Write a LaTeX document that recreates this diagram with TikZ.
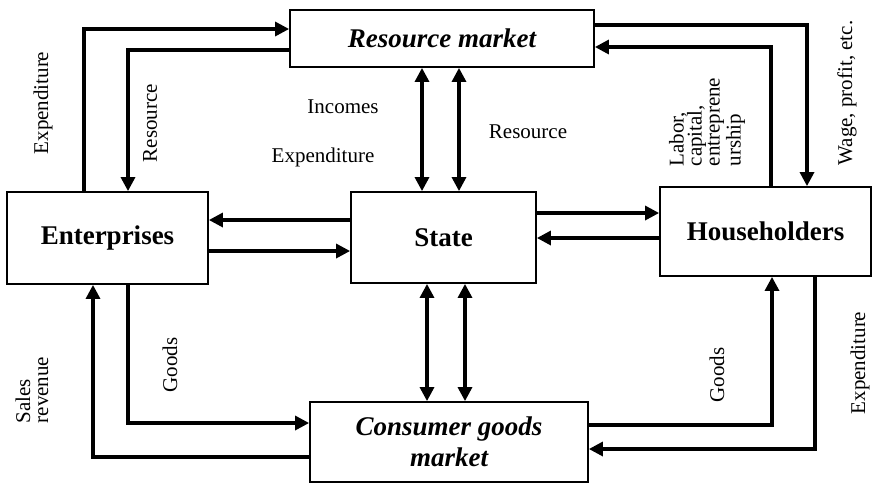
\documentclass[tikz,border=0pt]{standalone}
\usepackage{fontspec}
\setmainfont{Liberation Serif}
\usetikzlibrary{arrows.meta}
\begin{document}
\begin{tikzpicture}[x=0.5pt,y=-0.5pt,
  box/.style={draw, line width=0.9pt, inner sep=2pt, align=center, font=\fontsize{13.5}{15.5}\selectfont\bfseries},
  mkt/.style={box, font=\fontsize{13.5}{15.5}\selectfont\bfseries\itshape},
  flow/.style={line width=1.6pt, -{Triangle[length=7pt,width=7pt]}},
  dflow/.style={line width=1.6pt, {Triangle[length=7pt,width=7pt]}-{Triangle[length=7pt,width=7pt]}},
  lbl/.style={inner sep=0pt, align=left, font=\fontsize{10.5}{9}\selectfont}]
\useasboundingbox (0,0) rectangle (872,484);
\node[mkt, minimum width=152pt, minimum height=28.5pt] (res) at (442,38.5) {Resource market};
\node[box, minimum width=100.5pt, minimum height=46pt] (ent) at (107.5,238) {Enterprises};
\node[box, minimum width=92.5pt, minimum height=45.5pt] (state) at (443.5,237.5) {State};
\node[box, minimum width=105.5pt, minimum height=44.5pt] (hh) at (765.5,231.5) {Householders};
\node[mkt, minimum width=139pt, minimum height=40pt] (cgm) at (449,442) {Consumer goods\\market};
\coordinate (e1) at (84,29);
\coordinate (r1) at (128,50);
\coordinate (d1) at (422,0);
\coordinate (d2) at (459,0);
\coordinate (d3) at (427,0);
\coordinate (d4) at (465,0);
\coordinate (h1) at (0,220);
\coordinate (h2) at (0,251);
\coordinate (h3) at (0,213);
\coordinate (h4) at (0,238);
\coordinate (w1) at (807,25);
\coordinate (l1) at (771,47);
\coordinate (g1) at (128,423);
\coordinate (s1) at (93,457);
\coordinate (g2) at (772,425);
\coordinate (x2) at (815,449);
\draw[flow] (ent.north -| e1) |- (res.west |- e1);
\draw[flow] (res.west |- r1) -| (ent.north -| r1);
\draw[dflow] (res.south -| d1) -- (state.north -| d1);
\draw[dflow] (res.south -| d2) -- (state.north -| d2);
\draw[flow] (state.west |- h1) -- (ent.east |- h1);
\draw[flow] (ent.east |- h2) -- (state.west |- h2);
\draw[flow] (state.east |- h3) -- (hh.west |- h3);
\draw[flow] (hh.west |- h4) -- (state.east |- h4);
\draw[flow] (res.east |- w1) -| (hh.north -| w1);
\draw[flow] (hh.north -| l1) |- (res.east |- l1);
\draw[dflow] (state.south -| d3) -- (cgm.north -| d3);
\draw[dflow] (state.south -| d4) -- (cgm.north -| d4);
\draw[flow] (ent.south -| g1) |- (cgm.west |- g1);
\draw[flow] (cgm.west |- s1) -| (ent.south -| s1);
\draw[flow] (cgm.east |- g2) -| (hh.south -| g2);
\draw[flow] (hh.south -| x2) |- (cgm.east |- x2);
\node[lbl, rotate=90] (lexp1) at (43,103) {Expenditure};
\node[lbl, rotate=90] (lres1) at (150,123) {Resource};
\node[lbl] (linc) at (343,107) {Incomes};
\node[lbl] (lexp2) at (323,157) {Expenditure};
\node[lbl] (lres2) at (528,132) {Resource};
\node[lbl, rotate=90] (llab) at (707,122) {Labor,\\capital,\\entreprene\\urship};
\node[lbl, rotate=90] (lwage) at (847,93) {Wage, profit, etc.};
\node[lbl, rotate=90] (lsal) at (32,390) {Sales\\revenue};
\node[lbl, rotate=90] (lgds1) at (170,365) {Goods};
\node[lbl, rotate=90] (lgds2) at (717,375) {Goods};
\node[lbl, rotate=90] (lexp3) at (860,363) {Expenditure};
\end{tikzpicture}
\end{document}
